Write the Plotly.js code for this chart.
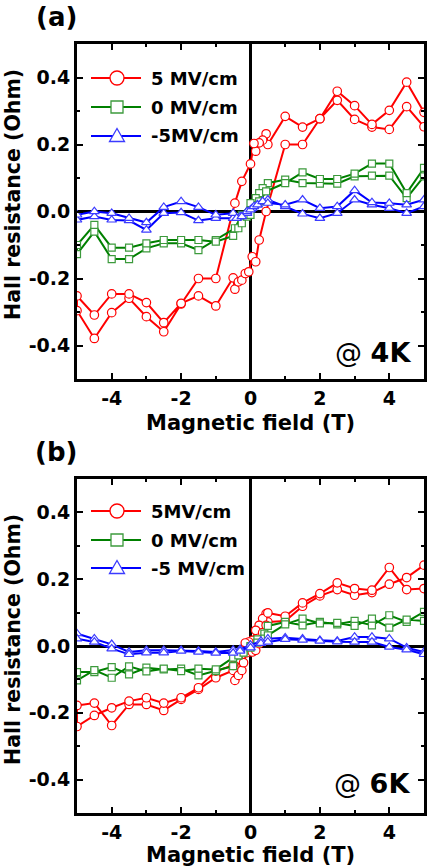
<!DOCTYPE html>
<html>
<head>
<meta charset="utf-8">
<script src="https://cdn.plot.ly/plotly-3.0.1.min.js"></script>
<style>html,body{margin:0;padding:0;background:#fff;}#chart{width:427px;height:867px;}</style>
</head>
<body>
<div id="chart"></div>
<script>
// ---------- tick labels ----------
const xTickVals = [-4, -2, 0, 2, 4];
const xTickText = ['-4', '-2', '0', '2', '4'];
const xMinorVals = [-5, -3, -1, 1, 3, 5];
const yTickVals = [-0.4, -0.2, 0, 0.2, 0.4];
const yTickText = ['-0.4', '-0.2', '0.0', '0.2', '0.4'];
const yMinorVals = [-0.3, -0.1, 0.1, 0.3];

// ---------- legend labels ----------
const names4K = ['5 MV/cm', '0 MV/cm', '-5MV/cm'];
const names6K = ['5MV/cm', '0 MV/cm', '-5 MV/cm'];

// ---------- 4 K data (sweep down 5 -> -5, then up -5 -> 5) ----------
const red4K_downX = [5,4.5,4,3.5,3,2.5,2,1.5,1,0.5,0.45,0.35,0.25,0.15,0.1,0,-0.25,-0.45,-1,-1.5,-2,-2.5,-3,-3.5,-4,-4.5,-5];
const red4K_downY = [0.253,0.313,0.245,0.252,0.275,0.332,0.277,0.252,0.284,0.200,0.232,0.213,0.205,0.180,0.203,0.142,0.090,0.025,-0.200,-0.200,-0.276,-0.359,-0.314,-0.259,-0.302,-0.379,-0.296];
const red4K_upX = [-5,-4.5,-4,-3.5,-3,-2.5,-2,-1.5,-1,-0.5,-0.45,-0.35,-0.25,-0.15,-0.05,0.05,0.15,0.25,0.45,1,1.5,2,2.5,3,3.5,4,4.5,5];
const red4K_upY = [-0.252,-0.309,-0.246,-0.246,-0.272,-0.332,-0.274,-0.252,-0.282,-0.198,-0.232,-0.210,-0.205,-0.185,-0.180,-0.135,-0.150,-0.085,0.000,0.200,0.200,0.277,0.359,0.316,0.260,0.302,0.386,0.296];

const green4K_downX = [5,4.5,4,3.5,3,2.5,2,1.5,1,0.5,0.35,0.25,0.15,0,-0.25,-0.45,-1,-1.5,-2,-2.5,-3,-3.5,-4,-4.5,-5];
const green4K_downY = [0.105,0.040,0.107,0.107,0.105,0.083,0.083,0.085,0.095,0.085,0.070,0.055,0.040,0.025,-0.010,-0.050,-0.085,-0.115,-0.095,-0.095,-0.110,-0.142,-0.142,-0.060,-0.127];
const green4K_upX = [-5,-4.5,-4,-3.5,-3,-2.5,-2,-1.5,-1,-0.5,-0.35,-0.25,-0.1,0,0.25,0.45,1,1.5,2,2.5,3,3.5,4,4.5,5];
const green4K_upY = [-0.100,-0.040,-0.108,-0.108,-0.095,-0.085,-0.085,-0.085,-0.090,-0.073,-0.050,-0.035,-0.015,-0.010,0.030,0.060,0.085,0.117,0.097,0.097,0.113,0.143,0.143,0.055,0.130];

const blue4K_downX = [5,4.5,4,3.5,3,2.5,2,1.5,1,0.5,0.35,0.2,0.05,-0.1,-0.3,-0.5,-1,-1.5,-2,-2.5,-3,-3.5,-4,-4.5,-5];
const blue4K_downY = [0.015,-0.005,0.010,0.020,0.035,-0.005,-0.020,-0.007,0.015,0.035,0.030,0.020,0.010,-0.005,-0.015,-0.020,-0.020,-0.027,-0.003,-0.005,-0.055,-0.027,-0.025,-0.015,-0.025];
const blue4K_upX = [-5,-4.5,-4,-3.5,-3,-2.5,-2,-1.5,-1,-0.5,-0.4,-0.25,-0.1,0,0.1,0.2,0.35,0.5,1,1.5,2,2.5,3,3.5,4,4.5,5];
const blue4K_upY = [-0.010,0.000,-0.005,-0.020,-0.033,0.013,0.030,0.013,-0.010,-0.005,-0.020,-0.015,0.000,0.005,0.015,0.020,0.030,0.025,0.020,0.035,0.010,0.015,0.063,0.027,0.025,0.020,0.035];

// ---------- 6 K data ----------
const red6K_downX = [5,4.5,4,3.5,3,2.5,2,1.5,1,0.5,0.45,0.35,0.25,0.15,0.05,-0.05,-0.15,-0.25,-0.35,-0.45,-0.5,-1,-1.5,-2,-2.5,-3,-3.5,-4,-4.5,-5];
const red6K_downY = [0.242,0.205,0.185,0.160,0.152,0.169,0.150,0.119,0.075,0.072,0.097,0.082,0.062,0.047,0.017,0.012,0.009,-0.013,-0.040,-0.060,-0.073,-0.095,-0.130,-0.160,-0.193,-0.175,-0.175,-0.238,-0.171,-0.178];
const red6K_upX = [-5,-4.5,-4,-3.5,-3,-2.5,-2,-1.5,-1,-0.5,-0.45,-0.35,-0.25,-0.2,-0.1,0.05,0.15,0.25,0.35,0.45,0.5,1,1.5,2,2.5,3,3.5,4,4.5,5];
const red6K_upY = [-0.241,-0.208,-0.185,-0.165,-0.155,-0.171,-0.155,-0.125,-0.075,-0.058,-0.103,-0.088,-0.073,-0.050,-0.020,-0.018,-0.013,0.007,0.040,0.062,0.099,0.089,0.129,0.157,0.189,0.172,0.167,0.235,0.169,0.172];

const green6K_downX = [5,4.5,4,3.5,3,2.5,2,1.5,1,0.5,0.4,0.2,0,-0.2,-0.35,-0.5,-1,-1.5,-2,-2.5,-3,-3.5,-4,-4.5,-5];
const green6K_downY = [0.102,0.072,0.092,0.062,0.075,0.065,0.072,0.062,0.072,0.060,0.037,0.020,0.000,-0.015,-0.028,-0.060,-0.075,-0.088,-0.068,-0.070,-0.065,-0.085,-0.063,-0.078,-0.078];
const green6K_upX = [-5,-4.5,-4,-3.5,-3,-2.5,-2,-1.5,-1,-0.5,-0.35,-0.2,0,0.2,0.4,0.5,1,1.5,2,2.5,3,3.5,4,4.5,5];
const green6K_upY = [-0.103,-0.072,-0.095,-0.061,-0.076,-0.068,-0.075,-0.068,-0.070,-0.035,-0.028,-0.020,-0.005,0.010,0.022,0.032,0.065,0.082,0.068,0.069,0.060,0.082,0.055,0.079,0.075];

const blue6K_downX = [5,4.5,4,3.5,3,2.5,2,1.5,1,0.5,0.3,0,-0.3,-0.5,-1,-1.5,-2,-2.5,-3,-3.5,-4,-4.5,-5];
const blue6K_downY = [-0.018,-0.005,0.022,0.027,0.027,0.015,0.017,0.022,0.025,0.022,0.015,0.003,-0.010,-0.012,-0.018,-0.015,-0.013,-0.013,-0.013,-0.018,0.005,0.022,0.037];
const blue6K_upX = [-5,-4.5,-4,-3.5,-3,-2.5,-2,-1.5,-1,-0.5,-0.3,0,0.3,0.5,1,1.5,2,2.5,3,3.5,4,4.5,5];
const blue6K_upY = [0.022,0.012,-0.008,-0.025,-0.020,-0.020,-0.015,-0.018,-0.021,-0.021,-0.015,-0.005,0.008,0.012,0.020,0.018,0.015,0.013,0.012,0.012,-0.003,-0.011,-0.025];

// ---------- geometry ----------
const W = 427, H = 867, ML = 77, MR = 3, MT = 44, MB = 54;
const PW = W - ML - MR, PH = H - MT - MB;
const px = v => (v - ML) / PW;
const py = v => (H - MB - v) / PH;

const RED = '#ff0000', GREEN = '#008000', GREEN_M = '#3c9a3c', BLUE = '#0000ff', BLUE_M = '#3b3bff';
const FONT = 'DejaVu Sans, Verdana, sans-serif';

function series(xd, yd, xu, yu, name, lineColor, mColor, symbol, size, xa, ya) {
  return {
    type: 'scatter', mode: 'lines+markers',
    x: xd.concat(xu), y: yd.concat(yu), name: name,
    xaxis: xa, yaxis: ya, showlegend: false,
    line: {color: lineColor, width: 2},
    marker: {symbol: symbol, size: size, color: '#ffffff', line: {color: mColor, width: 1.2}}
  };
}

const traces = [
  series(red4K_downX, red4K_downY, red4K_upX, red4K_upY, names4K[0], RED, RED, 'circle', 8.5, 'x', 'y'),
  series(green4K_downX, green4K_downY, green4K_upX, green4K_upY, names4K[1], GREEN, GREEN_M, 'square', 7, 'x', 'y'),
  series(blue4K_downX, blue4K_downY, blue4K_upX, blue4K_upY, names4K[2], BLUE, BLUE_M, 'triangle-up', 8.5, 'x', 'y'),
  series(red6K_downX, red6K_downY, red6K_upX, red6K_upY, names6K[0], RED, RED, 'circle', 8.5, 'x2', 'y2'),
  series(green6K_downX, green6K_downY, green6K_upX, green6K_upY, names6K[1], GREEN, GREEN_M, 'square', 7, 'x2', 'y2'),
  series(blue6K_downX, blue6K_downY, blue6K_upX, blue6K_upY, names6K[2], BLUE, BLUE_M, 'triangle-up', 8.5, 'x2', 'y2')
];

const tickFont = {family: FONT, size: 19, color: '#000', weight: 'bold'};
function xAxis(anchor) {
  return {
    anchor: anchor, domain: [0, 1], range: [-5, 5],
    tickmode: 'array', tickvals: xTickVals, ticktext: xTickText,
    ticks: 'inside', ticklen: 6, tickwidth: 2, tickcolor: '#000',
    minor: {tickmode: 'array', tickvals: xMinorVals, ticks: 'inside', ticklen: 3, tickwidth: 2, tickcolor: '#000', showgrid: false},
    showline: true, linewidth: 3, linecolor: '#000', mirror: 'ticks',
    zeroline: true, zerolinewidth: 3, zerolinecolor: '#000',
    showgrid: false, tickfont: tickFont, fixedrange: true
  };
}
function yAxis(anchor, domain) {
  return {
    anchor: anchor, domain: domain, range: [-0.5, 0.5],
    tickmode: 'array', tickvals: yTickVals, ticktext: yTickText,
    ticks: 'inside', ticklen: 6, tickwidth: 2, tickcolor: '#000',
    minor: {tickmode: 'array', tickvals: yMinorVals, ticks: 'inside', ticklen: 3, tickwidth: 2, tickcolor: '#000', showgrid: false},
    showline: true, linewidth: 3, linecolor: '#000', mirror: 'ticks',
    zeroline: true, zerolinewidth: 3, zerolinecolor: '#000',
    showgrid: false, tickfont: tickFont, fixedrange: true
  };
}

// ---------- custom legend (long lines, large symbols) ----------
const shapes = [];
const annotations = [];
function legendRow(rowY, color, mColor, kind, label) {
  shapes.push({type: 'line', xref: 'paper', yref: 'paper', x0: px(91), x1: px(141), y0: py(rowY), y1: py(rowY), line: {color: color, width: 2}});
  const base = {xref: 'paper', yref: 'paper', xsizemode: 'pixel', ysizemode: 'pixel', xanchor: px(117), yanchor: py(rowY), fillcolor: '#ffffff', line: {color: mColor, width: 1.3}};
  if (kind === 'circle') shapes.push(Object.assign({type: 'circle', x0: -7, x1: 7, y0: -7, y1: 7}, base));
  else if (kind === 'square') shapes.push(Object.assign({type: 'rect', x0: -6, x1: 6, y0: -6, y1: 6}, base));
  else shapes.push(Object.assign({type: 'path', path: 'M-7.5,-5.5L7.5,-5.5L0,7.5Z'}, base));
  annotations.push({xref: 'paper', yref: 'paper', x: px(149), y: py(rowY), xanchor: 'left', yanchor: 'middle', showarrow: false, text: label, font: {family: FONT, size: 18, color: '#000', weight: 'bold'}});
}
legendRow(78, RED, RED, 'circle', names4K[0]);
legendRow(107, GREEN, GREEN_M, 'square', names4K[1]);
legendRow(136, BLUE, BLUE_M, 'triangle', names4K[2]);
legendRow(511, RED, RED, 'circle', names6K[0]);
legendRow(540, GREEN, GREEN_M, 'square', names6K[1]);
legendRow(568, BLUE, BLUE_M, 'triangle', names6K[2]);

// ---------- texts ----------
function txt(x, y, text, size, extra) {
  annotations.push(Object.assign({xref: 'paper', yref: 'paper', x: px(x), y: py(y), xanchor: 'center', yanchor: 'middle', showarrow: false, text: text, font: {family: FONT, size: size, color: '#000', weight: 'bold'}}, extra || {}));
}
txt(56, 17, '(a)', 26);
txt(56, 452, '(b)', 26);
txt(250.5, 423, 'Magnetic field (T)', 21);
txt(250.5, 855, 'Magnetic field (T)', 21);
txt(13, 195, 'Hall resistance (Ohm)', 20.5, {textangle: -90});
txt(13, 640, 'Hall resistance (Ohm)', 20.5, {textangle: -90});
txt(413, 352, '@ <b>4K</b>', 27, {xanchor: 'right', font: {family: FONT, size: 27, color: '#000', weight: 'normal'}});
txt(412, 783, '@ <b>6K</b>', 27, {xanchor: 'right', font: {family: FONT, size: 27, color: '#000', weight: 'normal'}});

const layout = {
  width: W, height: H,
  margin: {l: ML, r: MR, t: MT, b: MB, pad: 0},
  paper_bgcolor: '#ffffff', plot_bgcolor: '#ffffff',
  showlegend: false,
  xaxis: xAxis('y'),
  yaxis: yAxis('x', [py(379), 1]),
  xaxis2: xAxis('y2'),
  yaxis2: yAxis('x2', [0, py(479)]),
  shapes: shapes,
  annotations: annotations,
  font: {family: FONT, color: '#000'}
};

Plotly.newPlot('chart', traces, layout, {displayModeBar: false, staticPlot: true});
</script>
</body>
</html>
